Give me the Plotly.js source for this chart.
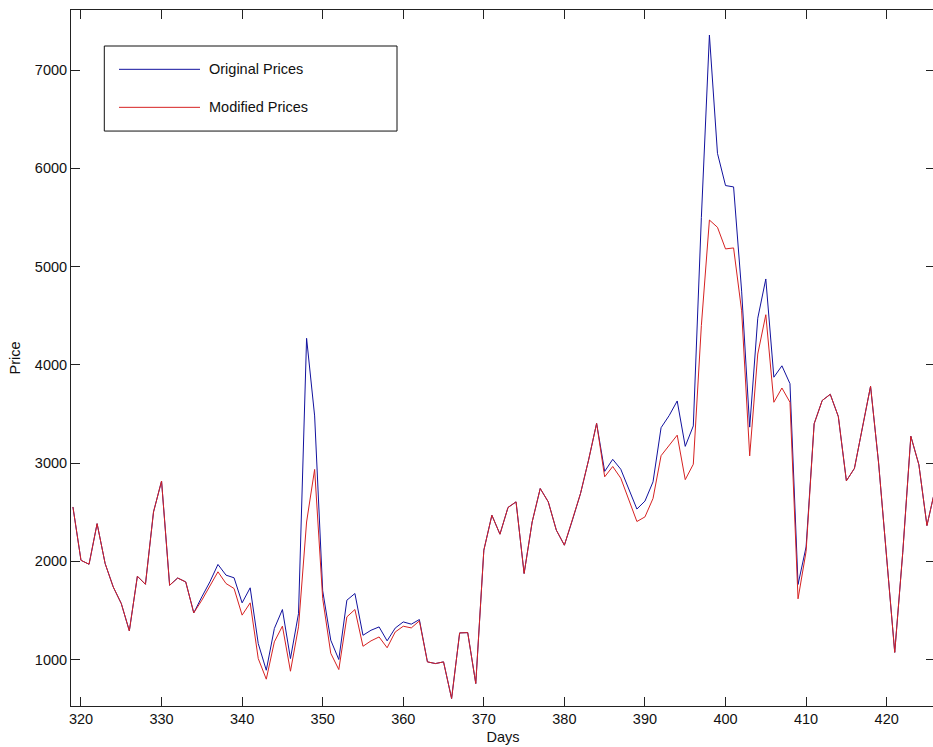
<!DOCTYPE html>
<html>
<head>
<meta charset="utf-8">
<script src="https://cdn.plot.ly/plotly-3.0.1.min.js"></script>
<style>html,body{margin:0;padding:0;overflow:hidden;background:#fff;}</style>
</head>
<body>
<div id="chart" style="width:936px;height:747px;"></div>
<script>
const days = [];
for (let d = 319; d <= 426; d++) days.push(d);

const originalPrices = [
  2553, 2010, 1970, 2383, 1976, 1739, 1570, 1292, 1848, 1766, // 319-328
  2502, 2817, 1756, 1830, 1790, 1475, 1638, 1791, 1968, 1859, // 329-338
  1832, 1577, 1730, 1163, 891, 1316, 1509, 1010, 1469, 4270,  // 339-348
  3480, 1700, 1197, 1000, 1604, 1672, 1247, 1298, 1332, 1190, // 349-358
  1320, 1383, 1360, 1407, 976, 959, 976, 603, 1271, 1274,     // 359-368
  756, 2113, 2469, 2276, 2548, 2605, 1876, 2401, 2741, 2605,  // 369-378
  2317, 2164, 2420, 2690, 3030, 3404, 2915, 3038, 2937, 2732, // 379-388
  2532, 2613, 2809, 3360, 3483, 3632, 3170, 3378, 5500, 7357, // 389-398
  6153, 5825, 5811, 4750, 3366, 4474, 4874, 3874, 3990, 3808, // 399-408
  1764, 2146, 3400, 3637, 3700, 3474, 2819, 2946, 3365, 3782, // 409-418
  3000, 2055, 1073, 2092, 3273, 2983, 2364, 2728              // 419-426
];

const modifiedPrices = [
  2553, 2010, 1970, 2383, 1976, 1739, 1570, 1292, 1848, 1766, // 319-328
  2502, 2817, 1756, 1830, 1790, 1475, 1604, 1747, 1893, 1774, // 329-338
  1723, 1452, 1577, 1010, 800, 1180, 1340, 881, 1333, 2400,   // 339-348
  2935, 1620, 1064, 898, 1434, 1509, 1135, 1190, 1230, 1120,  // 349-358
  1280, 1339, 1322, 1393, 976, 959, 976, 603, 1271, 1274,     // 359-368
  756, 2113, 2469, 2276, 2548, 2605, 1876, 2401, 2741, 2605,  // 369-378
  2317, 2164, 2420, 2690, 3030, 3404, 2860, 2965, 2846, 2622, // 379-388
  2405, 2452, 2640, 3075, 3182, 3284, 2831, 2988, 4400, 5474, // 389-398
  5400, 5180, 5190, 4550, 3073, 4110, 4510, 3619, 3764, 3619, // 399-408
  1618, 2100, 3400, 3637, 3700, 3474, 2819, 2946, 3365, 3782, // 409-418
  3000, 2055, 1073, 2092, 3273, 2983, 2364, 2728              // 419-426
];

const seriesNames = ["Original Prices", "Modified Prices"];
const xTickVals = [320, 330, 340, 350, 360, 370, 380, 390, 400, 410, 420];
const yTickVals = [1000, 2000, 3000, 4000, 5000, 6000, 7000];

const FONT = "Arial, 'Liberation Sans', Helvetica, sans-serif";
const BLUE = "#12129e";
const RED = "#d62222";
const TXT = "#111";

// Legend geometry (paper coords)
const L = 71, R = 935, T = 10, B = 705.7;
const px = v => (v - L) / (R - L);
const py = v => (B - v) / (B - T);

const traces = [
  {x: days, y: originalPrices, name: seriesNames[0], type: "scatter", mode: "lines",
   line: {color: BLUE, width: 1}, showlegend: false},
  {x: days, y: modifiedPrices, name: seriesNames[1], type: "scatter", mode: "lines",
   line: {color: RED, width: 1}, showlegend: false}
];

const layout = {
  width: 936, height: 747,
  margin: {l: 71, r: 1, t: 10, b: 41.3, pad: 0},
  paper_bgcolor: "#fff", plot_bgcolor: "#fff",
  font: {family: FONT, size: 14.5, color: TXT},
  xaxis: {
    range: [318.76, 426.0], tickvals: xTickVals, ticktext: xTickVals.map(String),
    ticks: "inside", ticklen: 9, tickwidth: 1, tickcolor: "#222",
    showline: true, linecolor: "#222", linewidth: 1, mirror: "ticks",
    showgrid: false, zeroline: false,
    tickfont: {family: FONT, size: 14.5, color: TXT},
    title: {text: "Days", font: {family: FONT, size: 14.5, color: TXT}, standoff: 5}
  },
  yaxis: {
    range: [527, 7612], tickvals: yTickVals, ticktext: yTickVals.map(String),
    ticks: "inside", ticklen: 9, tickwidth: 1, tickcolor: "#222",
    showline: true, linecolor: "#222", linewidth: 1, mirror: "ticks",
    showgrid: false, zeroline: false,
    tickfont: {family: FONT, size: 14.5, color: TXT},
    title: {text: "Price", font: {family: FONT, size: 14.5, color: TXT}, standoff: 10}
  },
  shapes: [
    {type: "rect", xref: "paper", yref: "paper", x0: px(104.3), x1: px(397), y0: py(131), y1: py(46),
     line: {color: "#111", width: 1}, fillcolor: "#fff", layer: "above"},
    {type: "line", xref: "paper", yref: "paper", x0: px(119), x1: px(200), y0: py(69.3), y1: py(69.3),
     line: {color: BLUE, width: 1}, layer: "above"},
    {type: "line", xref: "paper", yref: "paper", x0: px(119), x1: px(200), y0: py(107.3), y1: py(107.3),
     line: {color: RED, width: 1}, layer: "above"}
  ],
  annotations: [
    {xref: "paper", yref: "paper", x: px(206.5), y: py(69.3), xanchor: "left", yanchor: "middle",
     text: seriesNames[0], showarrow: false, font: {family: FONT, size: 14.5, color: TXT}},
    {xref: "paper", yref: "paper", x: px(206.5), y: py(107.3), xanchor: "left", yanchor: "middle",
     text: seriesNames[1], showarrow: false, font: {family: FONT, size: 14.5, color: TXT}}
  ]
};

Plotly.newPlot("chart", traces, layout, {displayModeBar: false, staticPlot: true});
</script>
</body>
</html>
